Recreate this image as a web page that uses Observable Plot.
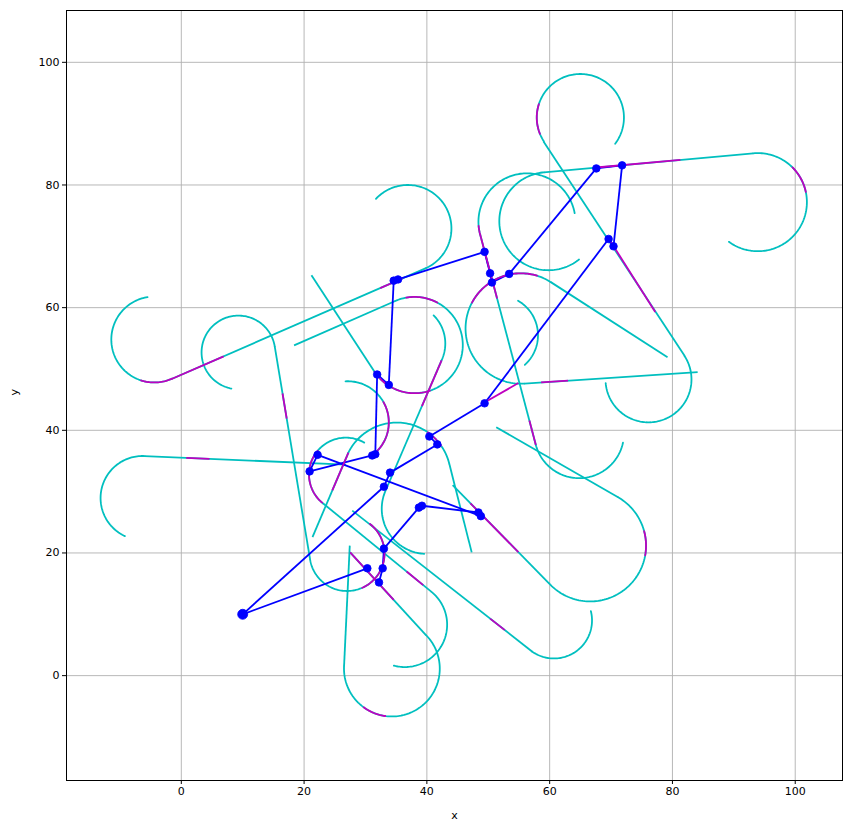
<!DOCTYPE html>
<html><head><meta charset="utf-8">
<script src="https://cdn.jsdelivr.net/npm/d3@7"></script>
<script src="https://cdn.jsdelivr.net/npm/@observablehq/plot@0.6"></script>
<style>body{margin:0;background:#fff;}</style>
</head><body><div id="chart"></div>
<script>
// ---- data ----
const xTicks = [0, 20, 40, 60, 80, 100];
const yTicks = [0, 20, 40, 60, 80, 100];

// tree nodes [x, y]
const nodes = [
  [10.0,10.0],[30.3,17.5],[32.8,17.5],[32.2,15.2],[33.0,20.7],[38.7,27.4],[39.2,27.7],
  [48.4,26.6],[48.8,26.0],[33.0,30.8],[34.0,33.1],[41.7,37.7],[40.4,39.0],[49.4,44.4],
  [20.9,33.3],[22.2,36.0],[31.1,35.9],[31.6,36.1],[31.9,49.1],[33.8,47.4],[34.6,64.4],
  [35.3,64.6],[49.4,69.1],[50.3,65.6],[50.6,64.1],[53.4,65.5],[67.6,82.7],[71.8,83.2],
  [69.6,71.2],[70.4,70.0]
];
// tree edges [from, to] (node indices)
const edges = [
  [0,1],[0,9],[9,10],[10,11],[11,12],[12,13],[13,28],[28,29],[29,27],[27,26],[26,25],
  [25,24],[24,23],[23,22],[22,21],[21,20],[20,19],[19,18],[18,17],[17,16],[16,14],
  [14,15],[15,8],[8,7],[7,6],[6,5],[5,4],[4,2],[2,3]
];

// arcs [cx, cy, r, startDeg, endDeg]
const cyanArcs = [
  [65.0,91.0,7.1,-37,213],[76.1,48.3,7.0,33,-175],[59.8,74.1,8.0,-51.5,-264.7],
  [93.9,77.2,8.0,95.3,-126],[56.3,74.0,7.9,10.2,195],[64.8,39.5,7.3,195,348],
  [55.3,56.6,9.0,57.1,273.7],[51.6,55.5,6.5,60,-48],[-4.4,54.8,7.0,99,294.6],
  [36.9,72.9,7.1,-65.4,137],[9.3,52.7,6.0,259,9.7],[27.0,19.9,6.1,189.7,412.5],
  [-6.3,28.96,6.85,245,87.3],[35.1,32.46,8.8,153.6,14],[66.6,21.2,9.1,-137.5,60],
  [26.8,32.8,6.0,60,232],[60.7,9.0,6.2,-124.6,14],[36.4,8.3,6.9,50.8,-105],
  [34.3,1.14,7.8,177.3,404.6],[38.0,53.9,7.85,113.7,-146.3],[36.5,54.15,6.5,-25,45],
  [40.0,27.2,7.35,-93.4,-205],[27.1,41.3,6.7,93,-50.6]
];
// straight pieces [x1, y1, x2, y2]
const cyanSegments = [
  [59.0,87.1,82.0,52.1],[59.06,82.07,93.16,85.17],[48.67,71.96,57.75,37.61],
  [60.19,64.16,79.2,51.9],[55.88,47.62,84.1,49.5],[-1.49,48.4,39.86,66.45],
  [15.21,53.71,20.99,18.87],[-5.98,35.8,26.8,34.4],[43.64,34.59,47.3,20.1],
  [21.37,22.59,27.22,36.37],[44.2,31.06,59.89,15.05],[71.15,29.08,51.3,40.5],
  [31.47,49.54,21.2,65.3],[18.37,53.85,34.85,61.09],[33.34,30.31,42.39,51.4],
  [23.11,28.07,40.76,13.65],[27.85,26.9,57.18,3.9],[27.44,21.2,26.51,1.51],
  [39.85,6.62,27.5,20.1]
];
const magentaArcs = [
  [65.0,91.0,7.1,162,202],[93.9,77.2,8.0,45,12],[56.3,74.0,7.9,185,195],
  [55.3,56.6,9.0,73,152],[-4.4,54.8,7.0,252,294.6],[27.0,19.9,6.1,294,412.5],
  [35.1,32.46,8.8,55,35],[66.6,21.2,9.1,-10,15],[26.8,32.8,6.0,140,230],
  [34.3,1.14,7.8,234,262],[38.0,53.9,7.85,62,100],[38.0,53.9,7.85,-71.5,-146.3],
  [27.1,41.3,6.7,29.5,-50.6]
];
const magentaSegments = [
  [69.6,71.3,77.2,59.3],[67.6,82.85,81.3,84.1],[48.67,71.96,51.44,61.5],
  [56.7,41.6,57.75,37.61],[58.6,47.8,63.0,48.09],[-1.49,48.4,6.9,52.06],
  [32.4,63.19,36.0,64.76],[16.49,46.0,17.17,41.9],[0.8,35.51,4.6,35.35],
  [24.6,30.2,27.22,36.37],[47.1,28.1,54.9,20.14],[36.7,16.97,39.4,14.76],
  [27.5,20.1,34.6,12.35],[50.3,9.3,52.7,7.42],[39.2,43.95,42.4,51.4],
  [49.3,44.5,54.9,47.7]
];

// ---- build mark inputs ----
function arcPoints(arcs) {
  return arcs.flatMap(([cx, cy, r, a0, a1], k) => {
    const n = Math.max(6, Math.ceil(Math.abs(a1 - a0) / 2));
    return d3.range(n + 1).map(i => {
      const a = (a0 + (a1 - a0) * i / n) * Math.PI / 180;
      return {x: cx + r * Math.cos(a), y: cy + r * Math.sin(a), k};
    });
  });
}
const seg = s => s.map(([x1, y1, x2, y2]) => ({x1, y1, x2, y2}));
const edgeData = edges.map(([a, b]) => ({x1: nodes[a][0], y1: nodes[a][1], x2: nodes[b][0], y2: nodes[b][1]}));
const nodeData = nodes.map(([x, y], i) => ({x, y, r: i === 0 ? 5 : 3.8}));

const CYAN = "#00bfbf", MAG = "#bf00bf", BLUE = "#0000ff";
const lw = 1.8;

const chart = Plot.plot({
  width: 850, height: 833,
  marginLeft: 66, marginRight: 8, marginTop: 10, marginBottom: 53,
  x: {domain: [-18.7, 107.7]},
  y: {domain: [-17.1, 108.45]},
  r: {type: "identity"},
  style: {fontFamily: "DejaVu Sans, sans-serif", fontSize: "11px", background: "white", color: "black"},
  marks: [
    Plot.gridX(xTicks, {stroke: "#b0b0b0", strokeOpacity: 1, strokeWidth: 0.9}),
    Plot.gridY(yTicks, {stroke: "#b0b0b0", strokeOpacity: 1, strokeWidth: 0.9}),
    Plot.line(arcPoints(cyanArcs), {x: "x", y: "y", z: "k", stroke: CYAN, strokeWidth: lw, curve: "linear"}),
    Plot.link(seg(cyanSegments), {x1: "x1", y1: "y1", x2: "x2", y2: "y2", stroke: CYAN, strokeWidth: lw}),
    Plot.link(edgeData, {x1: "x1", y1: "y1", x2: "x2", y2: "y2", stroke: BLUE, strokeWidth: lw}),
    Plot.line(arcPoints(magentaArcs), {x: "x", y: "y", z: "k", stroke: MAG, strokeWidth: lw}),
    Plot.link(seg(magentaSegments), {x1: "x1", y1: "y1", x2: "x2", y2: "y2", stroke: MAG, strokeWidth: lw}),
    Plot.dot(nodeData, {x: "x", y: "y", r: "r", fill: BLUE, stroke: BLUE, strokeWidth: 0.8}),
    Plot.frame({stroke: "black", strokeWidth: 1}),
    Plot.axisX(xTicks, {tickSize: 4, tickPadding: 3, label: null, fontSize: 11}),
    Plot.axisY(yTicks, {tickSize: 4, tickPadding: 3, label: null, fontSize: 11}),
    Plot.text(["x"], {frameAnchor: "bottom", dy: 35, lineAnchor: "middle", fontSize: 11}),
    Plot.text(["y"], {frameAnchor: "left", dx: -52, rotate: -90, fontSize: 11})
  ]
});
document.getElementById("chart").appendChild(chart);
</script>
</body></html>
